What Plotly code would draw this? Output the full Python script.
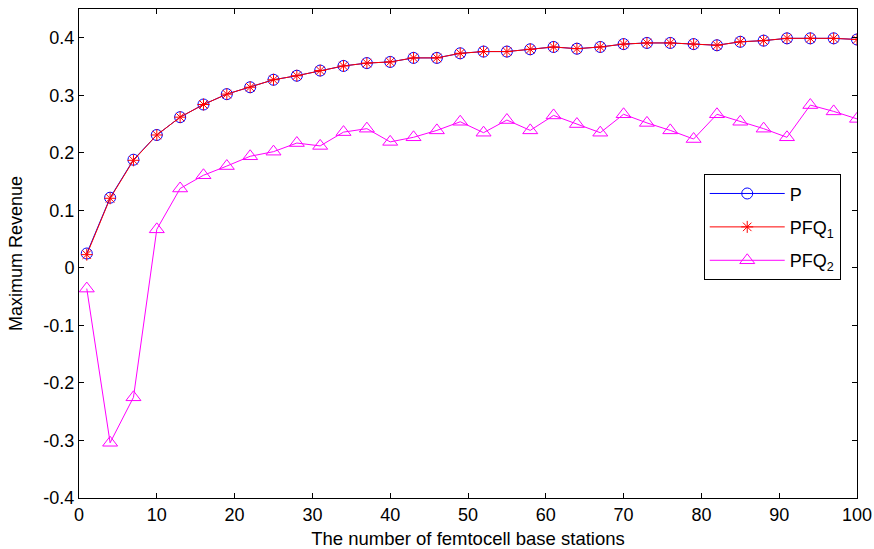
import plotly.graph_objects as go

# Number of femtocell base stations
stations = list(range(1, 101, 3))

# Maximum revenue for each scheme
rev_p = [0.025, 0.122, 0.188, 0.231, 0.262, 0.284, 0.302, 0.314, 0.327, 0.334,
         0.343, 0.351, 0.356, 0.358, 0.365, 0.365, 0.373, 0.376, 0.376, 0.380,
         0.384, 0.381, 0.384, 0.389, 0.391, 0.391, 0.389, 0.387, 0.393, 0.395,
         0.399, 0.399, 0.399, 0.397]
rev_pfq1 = [0.023, 0.121, 0.187, 0.231, 0.262, 0.284, 0.302, 0.314, 0.327, 0.334,
            0.343, 0.351, 0.356, 0.358, 0.365, 0.365, 0.373, 0.376, 0.376, 0.380,
            0.384, 0.381, 0.384, 0.389, 0.391, 0.391, 0.389, 0.387, 0.393, 0.395,
            0.399, 0.399, 0.399, 0.397]
rev_pfq2 = [-0.036, -0.304, -0.225, 0.067, 0.138, 0.161, 0.177, 0.194, 0.202, 0.217,
            0.212, 0.236, 0.242, 0.219, 0.227, 0.239, 0.254, 0.235, 0.257, 0.239,
            0.265, 0.250, 0.235, 0.267, 0.252, 0.239, 0.224, 0.267, 0.254, 0.242,
            0.227, 0.283, 0.272, 0.259]

y_ticks = [-0.4, -0.3, -0.2, -0.1, 0, 0.1, 0.2, 0.3, 0.4]
y_tick_text = ["-0.4", "-0.3", "-0.2", "-0.1", "0", "0.1", "0.2", "0.3", "0.4"]
x_ticks = list(range(0, 101, 10))

FONT = "Liberation Sans, Arial, sans-serif"

fig = go.Figure()
fig.add_trace(go.Scatter(
    x=stations, y=rev_p, name="P", mode="lines+markers", legendgroup="p",
    line=dict(color="#0000ff", width=1),
    marker=dict(symbol="circle-open", size=11, color="#0000ff", line=dict(width=1)),
))
fig.add_trace(go.Scatter(
    x=stations, y=rev_pfq1, name="PFQ<sub>1</sub>", mode="lines+markers", legendgroup="q1",
    line=dict(color="#ff0000", width=1),
    marker=dict(symbol="asterisk-open", size=10, color="#ff0000", line=dict(width=1, color="#ff0000")),
))
fig.add_trace(go.Scatter(
    x=stations, y=rev_pfq2, name="PFQ<sub>2</sub>", mode="lines+markers", legendgroup="q2",
    line=dict(color="#ff00ff", width=1),
    marker=dict(symbol="triangle-up-open", size=13, color="#ff00ff", line=dict(width=1)),
))

axis_common = dict(
    showline=True, linecolor="black", linewidth=1, mirror="ticks",
    ticks="inside", ticklen=5, tickcolor="black", tickwidth=1,
    showgrid=False, zeroline=False, automargin=False,
    tickfont=dict(family=FONT, size=18, color="black"),
)

fig.update_xaxes(
    range=[0, 100], tickvals=x_ticks,
    title=dict(text="The number of femtocell base stations",
               font=dict(family=FONT, size=18.5, color="black"), standoff=9),
    **axis_common,
)
fig.update_yaxes(
    range=[-0.4, 0.45], tickvals=y_ticks, ticktext=y_tick_text,
    title=dict(text="Maximum Revenue",
               font=dict(family=FONT, size=18, color="black"), standoff=16),
    **axis_common,
)

fig.update_layout(
    width=874, height=549,
    margin=dict(l=79, r=17, t=9, b=51),
    paper_bgcolor="white", plot_bgcolor="white",
    font=dict(family=FONT, size=18, color="black"),
    legend=dict(
        x=0.803, y=0.662, xanchor="left", yanchor="top",
        bordercolor="black", borderwidth=1, bgcolor="white",
        font=dict(family=FONT, size=18, color="black"),
        itemwidth=75, tracegroupgap=7,
    ),
)

fig.write_html("out.html")
